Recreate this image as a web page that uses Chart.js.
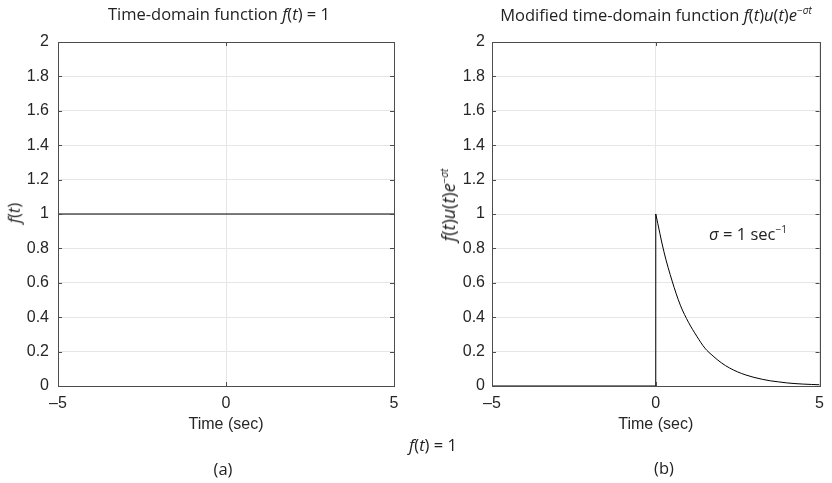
<!DOCTYPE html>
<html>
<head>
<meta charset="utf-8">
<script src="https://cdn.jsdelivr.net/npm/chart.js@4.4.1/dist/chart.umd.min.js"></script>
<style>
  body { margin: 0; background: #fff; }
  #wrap { position: relative; width: 832px; height: 483px; overflow: hidden; font-family: "Open Sans", sans-serif; color: #222; }
  canvas { position: absolute; top: 0; }
  .lbl { position: absolute; transform: translate(-50%, -50%); white-space: nowrap; font-size: 16.5px; line-height: 1; }
  .rot { transform: translate(-50%, -50%) rotate(-90deg); }
  sup { font-size: 10px; vertical-align: 7px; }
</style>
</head>
<body>
<div id="wrap">
  <canvas id="chartA" width="416" height="483" style="left:0"></canvas>
  <canvas id="chartB" width="416" height="483" style="left:416px"></canvas>

  <div class="lbl" style="left:219px; top:14px">Time-domain function <i>f</i>(<i>t</i>) = 1</div>
  <div class="lbl" style="left:656px; top:14px">Modified time-domain function <i>f</i>(<i>t</i>)<i>u</i>(<i>t</i>)<i>e</i><sup>−<i>σt</i></sup></div>
  <div class="lbl rot" style="left:14px; top:213px"><i>f</i>(<i>t</i>)</div>
  <div class="lbl rot" style="left:448px; top:205px; font-size:18px"><i>f</i>(<i>t</i>)<i>u</i>(<i>t</i>)<i>e</i><sup>−<i>σt</i></sup></div>
  <div class="lbl" style="left:748px; top:233px"><i>σ</i> = 1 sec<sup>−1</sup></div>
  <div class="lbl" style="left:433px; top:445px"><i>f</i>(<i>t</i>) = 1</div>
  <div class="lbl" style="left:223px; top:469px">(a)</div>
  <div class="lbl" style="left:664px; top:468px">(b)</div>
</div>
<script>
// constant signal f(t) = 1
const timeA = [-5, 5];
const valueA = [1, 1];

// u(t) step: zero before t = 0, then jump up to 1
const stepTime = [-5, 0, 0];
const stepValue = [0, 0, 1];

// decay of f(t)u(t)e^(-sigma t) for t >= 0
const decayTime = [0, 0.25, 0.5, 0.75, 1, 1.25, 1.5, 1.75, 2, 2.25, 2.5, 2.75, 3, 3.25, 3.5, 3.75, 4, 4.25, 4.5, 4.75, 5];
const decayValue = [1, 0.78, 0.61, 0.47, 0.37, 0.29, 0.22, 0.174, 0.135, 0.105, 0.082, 0.064, 0.05, 0.039, 0.03, 0.024, 0.018, 0.014, 0.011, 0.009, 0.007];

const xTicks = [-5, 0, 5];
const yMin = 0, yMax = 2, yStep = 0.2;

const pts = (xs, ys) => xs.map((x, i) => ({ x: x, y: ys[i] }));

// frame around the plot area plus short inward tick marks on all four sides
const framePlugin = {
    id: 'frame',
    afterDatasetsDraw(chart) {
        const { ctx, chartArea: a, scales } = chart;
        ctx.save();
        ctx.strokeStyle = '#4d4d4d';
        ctx.lineWidth = 1;
        ctx.beginPath();
        scales.y.ticks.forEach(t => {
            const y = Math.round(scales.y.getPixelForValue(t.value)) + 0.5;
            ctx.moveTo(a.left, y); ctx.lineTo(a.left + 4, y);
            ctx.moveTo(a.right, y); ctx.lineTo(a.right - 4, y);
        });
        scales.x.ticks.forEach(t => {
            const x = Math.round(scales.x.getPixelForValue(t.value)) + 0.5;
            ctx.moveTo(x, a.bottom); ctx.lineTo(x, a.bottom - 4);
            ctx.moveTo(x, a.top); ctx.lineTo(x, a.top + 4);
        });
        ctx.stroke();
        ctx.strokeRect(Math.round(a.left) + 0.5, Math.round(a.top) + 0.5,
            Math.round(a.right - a.left), Math.round(a.bottom - a.top));
        ctx.restore();
    }
};

function makeOptions(yWidth, rightPad, yPad) {
    const tickFont = { family: 'Liberation Sans, Arial, sans-serif', size: 16 };
    return {
        responsive: false,
        animation: false,
        layout: { padding: { left: 0, right: rightPad, top: 42, bottom: 47 } },
        plugins: { legend: { display: false }, tooltip: { enabled: false } },
        elements: { point: { radius: 0 } },
        scales: {
            x: {
                type: 'linear',
                min: -5, max: 5,
                afterBuildTicks: s => { s.ticks = xTicks.map(v => ({ value: v })); },
                afterFit: s => { s.height = 50; },
                grid: { color: '#e6e6e6', drawTicks: false },
                border: { display: false },
                ticks: {
                    padding: 8,
                    color: '#262626',
                    font: tickFont,
                    maxRotation: 0,
                    callback: v => String(v).replace('-', '–')
                },
                title: {
                    display: true,
                    text: 'Time (sec)',
                    color: '#262626',
                    font: tickFont,
                    padding: { top: 0, bottom: 2 }
                }
            },
            y: {
                min: yMin, max: yMax,
                afterFit: s => { s.width = yWidth; },
                grid: { color: '#e6e6e6', drawTicks: false },
                border: { display: false },
                ticks: {
                    stepSize: yStep,
                    padding: yPad,
                    color: '#262626',
                    font: tickFont,
                    callback: v => String(+v.toFixed(1))
                }
            }
        }
    };
}

new Chart(document.getElementById('chartA'), {
    type: 'line',
    data: {
        datasets: [{
            data: pts(timeA, valueA),
            borderColor: '#000',
            borderWidth: 1,
            tension: 0
        }]
    },
    options: makeOptions(58, 22, 9),
    plugins: [framePlugin]
});

new Chart(document.getElementById('chartB'), {
    type: 'line',
    data: {
        datasets: [{
            data: pts(stepTime, stepValue),
            borderColor: '#000',
            borderWidth: 1,
            tension: 0
        }, {
            data: pts(decayTime, decayValue),
            borderColor: '#000',
            borderWidth: 1,
            cubicInterpolationMode: 'monotone'
        }]
    },
    options: makeOptions(76, 4, 7),
    plugins: [framePlugin]
});
</script>
</body>
</html>
